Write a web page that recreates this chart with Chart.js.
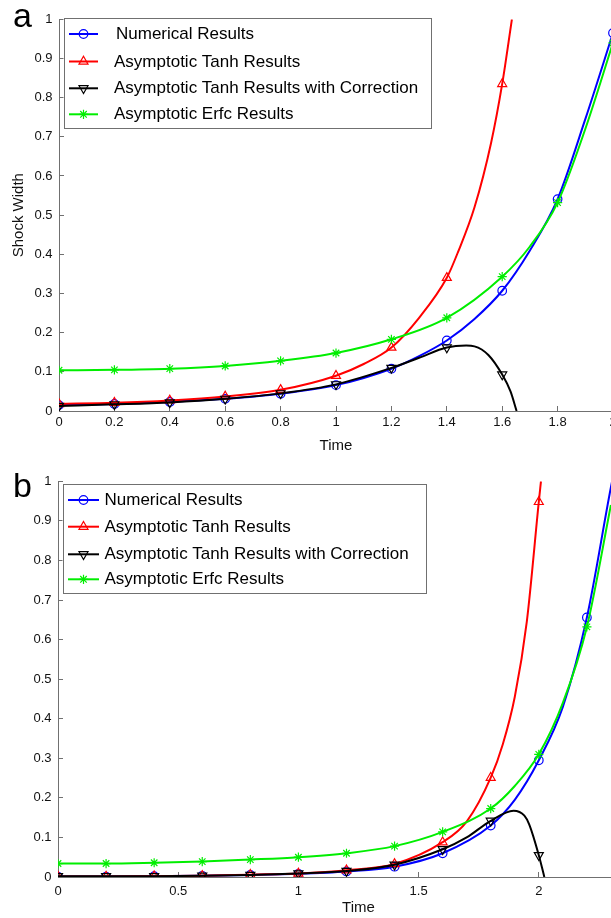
<!DOCTYPE html>
<html>
<head>
<meta charset="utf-8">
<script src="https://cdn.jsdelivr.net/npm/chart.js@4.4.1/dist/chart.umd.min.js"></script>
<style>
html, body { margin: 0; padding: 0; background: #ffffff; overflow: hidden; width: 611px; height: 918px; }
#wrapA { position: absolute; left: 0; top: 0; width: 640px; height: 462px; }
#wrapB { position: absolute; left: 0; top: 462px; width: 680px; height: 456px; }
canvas { display: block; }
</style>
</head>
<body>
<div id="wrapA"><canvas id="chartA" width="640" height="462"></canvas></div>
<div id="wrapB"><canvas id="chartB" width="680" height="456"></canvas></div>
<script>
// ---------------- DATA ----------------
const seriesNames = [
  'Numerical Results',
  'Asymptotic Tanh Results',
  'Asymptotic Tanh Results with Correction',
  'Asymptotic Erfc Results'
];
const panelLetters = ['a', 'b'];
const xTitle = 'Time';
const yTitle = 'Shock Width';

const yTicks  = [0, 0.1, 0.2, 0.3, 0.4, 0.5, 0.6, 0.7, 0.8, 0.9, 1];
const xTicksA = [0, 0.2, 0.4, 0.6, 0.8, 1, 1.2, 1.4, 1.6, 1.8, 2];
const xTicksB = [0, 0.5, 1, 1.5, 2, 2.5];

// Panel a
const aNumT  = [0, 0.2, 0.4, 0.6, 0.8, 1.0, 1.2, 1.3, 1.4, 1.5, 1.6, 1.7, 1.8, 1.9, 2.0];
const aNumV  = [0.015, 0.018, 0.023, 0.031, 0.044, 0.066, 0.108, 0.14, 0.18, 0.235, 0.307, 0.41, 0.541, 0.745, 0.965];
const aTanhT = [0, 0.2, 0.4, 0.6, 0.8, 1.0, 1.1, 1.2, 1.3, 1.4, 1.44, 1.5, 1.56, 1.6, 1.635];
const aTanhV = [0.018, 0.021, 0.027, 0.037, 0.054, 0.09, 0.12, 0.162, 0.238, 0.34, 0.405, 0.52, 0.685, 0.835, 1.0];
const aCorrT = [0, 0.2, 0.4, 0.6, 0.8, 1.0, 1.2, 1.3, 1.4, 1.47, 1.5, 1.55, 1.6, 1.63, 1.652];
const aCorrV = [0.013, 0.017, 0.022, 0.031, 0.045, 0.068, 0.11, 0.136, 0.162, 0.167, 0.165, 0.143, 0.093, 0.05, 0.0];
const aErfcT = [0, 0.2, 0.4, 0.6, 0.8, 1.0, 1.2, 1.4, 1.6, 1.7, 1.8, 1.9, 2.0];
const aErfcV = [0.104, 0.105, 0.108, 0.115, 0.128, 0.148, 0.183, 0.238, 0.343, 0.42, 0.532, 0.72, 0.94];

// Panel b
const bNumT  = [0, 0.2, 0.4, 0.6, 0.8, 1.0, 1.2, 1.4, 1.6, 1.8, 1.9, 2.0, 2.1, 2.2, 2.3, 2.305];
const bNumV  = [0.001, 0.001, 0.002, 0.003, 0.005, 0.008, 0.014, 0.026, 0.06, 0.13, 0.195, 0.295, 0.43, 0.656, 0.985, 1.0];
const bTanhT = [0, 0.2, 0.4, 0.6, 0.8, 1.0, 1.2, 1.4, 1.6, 1.7, 1.8, 1.85, 1.9, 1.95, 2.0, 2.009];
const bTanhV = [0.001, 0.001, 0.002, 0.003, 0.006, 0.009, 0.017, 0.033, 0.088, 0.14, 0.251, 0.335, 0.455, 0.645, 0.948, 1.0];
const bCorrT = [0, 0.2, 0.4, 0.6, 0.8, 1.0, 1.2, 1.4, 1.6, 1.7, 1.8, 1.895, 1.94, 1.96, 2.0, 2.023];
const bCorrV = [0.002, 0.002, 0.002, 0.003, 0.005, 0.009, 0.015, 0.031, 0.07, 0.1, 0.142, 0.1676, 0.155, 0.133, 0.055, 0.0];
const bErfcT = [0, 0.2, 0.4, 0.6, 0.8, 1.0, 1.2, 1.4, 1.6, 1.8, 1.9, 2.0, 2.1, 2.2, 2.3];
const bErfcV = [0.034, 0.034, 0.036, 0.039, 0.044, 0.05, 0.06, 0.078, 0.114, 0.173, 0.23, 0.31, 0.44, 0.632, 0.94];

// ---------------- STYLE ----------------
const FONT = "'Liberation Sans', Arial, Helvetica, sans-serif";
const colors = ['#0000ff', '#ff0000', '#000000', '#00ee00'];
const markers = ['circle', 'triangle', 'triangleDown', 'star'];
const markerSize = [4.3, 5.2, 5.2, 4.6];
const axisColor = '#707070';

function isMarker(t) {
  const q = t / 0.2;
  return Math.abs(q - Math.round(q)) < 1e-6;
}
function fmt(v) {
  return String(Math.round(v * 10) / 10);
}

function makeDataset(i, ts, vs) {
  return {
    label: seriesNames[i],
    data: ts.map((t, k) => ({ x: t, y: vs[k] })),
    borderColor: colors[i],
    backgroundColor: 'rgba(0,0,0,0)',
    borderWidth: 2,
    cubicInterpolationMode: 'monotone',
    pointStyle: markers[i] === 'triangleDown' ? 'triangle' : markers[i],
    rotation: markers[i] === 'triangleDown' ? 180 : 0,
    pointRadius: (c) => (c.raw && isMarker(c.raw.x)) ? markerSize[i] : 0,
    pointHoverRadius: 0,
    pointBorderWidth: 1.2,
    pointBorderColor: colors[i],
    pointBackgroundColor: 'rgba(0,0,0,0)',
    order: 4 - i
  };
}

function drawMarker(ctx, type, x, y, r, color) {
  ctx.save();
  ctx.strokeStyle = color;
  ctx.lineWidth = 1.2;
  ctx.beginPath();
  if (type === 'circle') {
    ctx.arc(x, y, r, 0, Math.PI * 2);
  } else if (type === 'triangle' || type === 'triangleDown') {
    let rad = type === 'triangle' ? 0 : Math.PI;
    for (let k = 0; k < 3; k++) {
      const px = x + Math.sin(rad) * r, py = y - Math.cos(rad) * r;
      if (k === 0) ctx.moveTo(px, py); else ctx.lineTo(px, py);
      rad += 2 * Math.PI / 3;
    }
    ctx.closePath();
  } else if (type === 'star') {
    ctx.moveTo(x - r, y); ctx.lineTo(x + r, y);
    ctx.moveTo(x, y - r); ctx.lineTo(x, y + r);
    const d = r * Math.SQRT1_2;
    ctx.moveTo(x - d, y - d); ctx.lineTo(x + d, y + d);
    ctx.moveTo(x - d, y + d); ctx.lineTo(x + d, y - d);
  }
  ctx.stroke();
  ctx.restore();
}

const decoPlugin = {
  id: 'panelDeco',
  afterDraw(chart, args, opts) {
    const ctx = chart.ctx;
    ctx.save();
    // panel letter
    ctx.font = '34px ' + FONT;
    ctx.fillStyle = '#000';
    ctx.textBaseline = 'alphabetic';
    ctx.textAlign = 'left';
    ctx.fillText(opts.letter, opts.letterX, opts.letterY);
    // legend box
    const L = opts.legend;
    ctx.fillStyle = '#ffffff';
    ctx.fillRect(L.x, L.y, L.w, L.h);
    ctx.strokeStyle = '#707070';
    ctx.lineWidth = 1;
    ctx.strokeRect(Math.round(L.x) + 0.5, Math.round(L.y) + 0.5, Math.round(L.w), Math.round(L.h));
    ctx.font = L.fontSize + 'px ' + FONT;
    ctx.textBaseline = 'middle';
    seriesNames.forEach((name, i) => {
      const y = L.rows[i];
      ctx.strokeStyle = colors[i];
      ctx.lineWidth = 2;
      ctx.beginPath();
      ctx.moveTo(L.lx1, y);
      ctx.lineTo(L.lx2, y);
      ctx.stroke();
      drawMarker(ctx, markers[i], (L.lx1 + L.lx2) / 2, y, markerSize[i], colors[i]);
      ctx.fillStyle = '#000';
      ctx.fillText(name, L.tx[i], y + 0.5);
    });
    ctx.restore();
  }
};

function makeChart(id, cfg) {
  return new Chart(document.getElementById(id), {
    type: 'line',
    data: { datasets: cfg.datasets },
    plugins: [decoPlugin],
    options: {
      responsive: false,
      animation: false,
      devicePixelRatio: 1,
      events: [],
      layout: { autoPadding: false, padding: cfg.padding },
      plugins: {
        legend: { display: false },
        tooltip: { enabled: false },
        panelDeco: cfg.deco
      },
      scales: {
        x: {
          type: 'linear',
          min: cfg.xMin, max: cfg.xMax,
          afterBuildTicks: (s) => { s.ticks = cfg.xTicks.map(v => ({ value: v })); },
          afterFit: (s) => { s.height = cfg.xHeight; },
          border: { display: true, color: axisColor, width: 1 },
          grid: { display: true, drawOnChartArea: false, drawTicks: true, tickLength: -5, color: axisColor, lineWidth: 1 },
          ticks: {
            color: '#111', font: { family: FONT, size: 13 }, padding: cfg.xTickPad,
            maxRotation: 0, autoSkip: false, callback: (v) => fmt(v)
          },
          title: {
            display: true, text: xTitle, color: '#111',
            font: { family: FONT, size: 15 }, padding: { top: 0, bottom: cfg.xTitlePad }
          }
        },
        y: {
          type: 'linear',
          min: 0, max: 1,
          afterBuildTicks: (s) => { s.ticks = yTicks.map(v => ({ value: v })); },
          afterFit: (s) => { s.width = cfg.yWidth; },
          border: { display: true, color: axisColor, width: 1 },
          grid: { display: true, drawOnChartArea: false, drawTicks: true, tickLength: -5, color: axisColor, lineWidth: 1 },
          ticks: {
            color: '#111', font: { family: FONT, size: 13 }, padding: 11.5,
            autoSkip: false, callback: (v) => fmt(v)
          },
          title: {
            display: cfg.showYTitle, text: yTitle, color: '#111',
            font: { family: FONT, size: 15 }, padding: { top: 9.5, bottom: 0 }
          }
        }
      }
    }
  });
}

makeChart('chartA', {
  datasets: [
    makeDataset(0, aNumT, aNumV),
    makeDataset(1, aTanhT, aTanhV),
    makeDataset(2, aCorrT, aCorrV),
    makeDataset(3, aErfcT, aErfcV)
  ],
  padding: { top: 14, left: 0, right: 27, bottom: 0 },
  xMin: 0, xMax: 2, xTicks: xTicksA,
  xHeight: 51, xTickPad: 8.2, xTitlePad: 7,
  yWidth: 59, showYTitle: true,
  deco: {
    letter: panelLetters[0], letterX: 13, letterY: 27,
    legend: {
      x: 63.5, y: 18, w: 366.5, h: 110, fontSize: 17,
      rows: [34, 61.5, 88.3, 114.3], lx1: 69, lx2: 98,
      tx: [116, 114, 114, 114]
    }
  }
});

makeChart('chartB', {
  datasets: [
    makeDataset(0, bNumT, bNumV),
    makeDataset(1, bTanhT, bTanhV),
    makeDataset(2, bCorrT, bCorrV),
    makeDataset(3, bErfcT, bErfcV)
  ],
  padding: { top: 17, left: 0, right: 21, bottom: 0 },
  xMin: 0, xMax: 2.5, xTicks: xTicksB,
  xHeight: 41, xTickPad: 11.2, xTitlePad: 1,
  yWidth: 58, showYTitle: false,
  deco: {
    letter: panelLetters[1], letterX: 13, letterY: 35,
    legend: {
      x: 62.5, y: 22, w: 362.5, h: 109, fontSize: 17,
      rows: [38, 64.7, 92.3, 117.3], lx1: 68, lx2: 99,
      tx: [104.5, 104.5, 104.5, 104.5]
    }
  }
});
</script>
</body>
</html>
